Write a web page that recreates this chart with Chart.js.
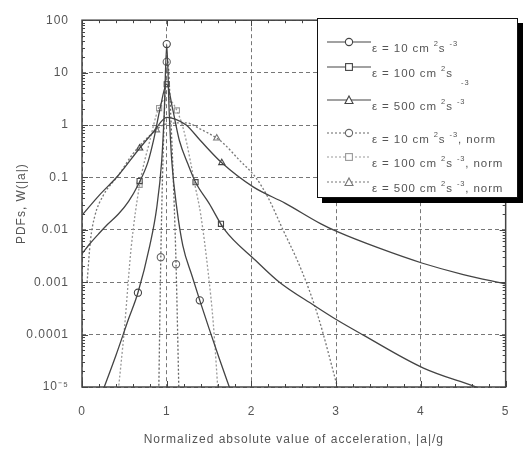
<!DOCTYPE html>
<html>
<head>
<meta charset="utf-8">
<script src="https://cdn.jsdelivr.net/npm/chart.js@4.4.1/dist/chart.umd.min.js"></script>
<style>
  html, body { margin: 0; padding: 0; background: #fff; }
  #wrap { position: relative; width: 526px; height: 449px; }
  #legend {
    position: absolute; left: 317px; top: 18px; width: 199px; height: 178px;
    border: 1.5px solid #111; background: #fff; box-shadow: 5px 5px 0 #000;
    font-family: "Liberation Sans", Arial, sans-serif; font-size: 11.5px; color: #555;
    letter-spacing: 0.9px;
  }
  .row { position: absolute; left: 0; width: 199px; height: 26px; }
  .row svg { position: absolute; left: 9px; top: 0; }
  .row .t { position: absolute; left: 54px; top: 6px; white-space: nowrap; line-height: 13px; }
  .row sup { font-size: 7.5px; vertical-align: 6px; line-height: 0; }
  .row .drop { position: absolute; left: 143px; top: 17px; font-size: 7.5px; }
</style>
</head>
<body>
<div id="wrap">
  <canvas id="c" width="526" height="449"></canvas>
  <div id="legend"></div>
</div>
<script>
// ── axes ────────────────────────────────────────────────────────────────
const X_TICKS = [0, 1, 2, 3, 4, 5];
const Y_TICKS = [1e-5, 1e-4, 1e-3, 0.01, 0.1, 1, 10, 100];
const Y_LABELS = ["10⁻⁵", "0.0001", "0.001", "0.01", "0.1", "1", "10", "100"];

// ── curves ──────────────────────────────────────────────────────────────
// eps = 10, solid, circles
const eps10X = [0.24, 0.4, 0.55, 0.66, 0.8, 0.88, 0.94, 0.97, 1.0, 1.03, 1.06, 1.12, 1.19, 1.3, 1.39, 1.5, 1.62, 1.76];
const eps10Y = [8e-6, 4e-5, 2e-4, 6.3e-4, 5e-3, 0.025, 0.2, 1.6, 35, 1.6, 0.2, 0.025, 5e-3, 1.3e-3, 4.5e-4, 1.3e-4, 3.5e-5, 8e-6];
const eps10MarkX = [0.66, 1.0, 1.39];
const eps10MarkY = [6.3e-4, 35, 4.5e-4];

// eps = 100, solid, squares
const eps100X = [0, 0.1, 0.2, 0.3, 0.43, 0.55, 0.66, 0.78, 0.85, 0.92, 1.0, 1.07, 1.15, 1.25, 1.34, 1.5, 1.68, 2.05, 2.33, 2.74, 3.01, 3.31, 4.03, 4.6, 5.0];
const eps100Y = [3.5e-3, 5.6e-3, 8.5e-3, 0.0126, 0.02, 0.035, 0.071, 0.2, 0.56, 2.0, 6.0, 2.0, 0.5, 0.18, 0.081, 0.032, 0.0102, 2.6e-3, 1.0e-3, 3.6e-4, 1.9e-4, 1.0e-4, 2.3e-5, 1.07e-5, 6.3e-6];
const eps100MarkX = [0.68, 1.0, 1.34, 1.64];
const eps100MarkY = [0.085, 6.0, 0.081, 0.013];

// eps = 500, solid, triangles
const eps500X = [0, 0.2, 0.43, 0.68, 0.85, 1.0, 1.1, 1.23, 1.4, 1.65, 2.02, 2.4, 2.82, 3.02, 3.5, 4.02, 4.5, 5.0];
const eps500Y = [0.019, 0.045, 0.11, 0.36, 0.76, 1.4, 1.3, 1.0, 0.5, 0.19, 0.066, 0.032, 0.013, 9.1e-3, 4.5e-3, 2.3e-3, 1.4e-3, 9.3e-4];
const eps500MarkX = [0.68, 1.65];
const eps500MarkY = [0.36, 0.19];

// eps = 10, norm, dotted circles
const eps10nX = [0.905, 0.93, 0.95, 0.97, 0.985, 1.0, 1.015, 1.03, 1.06, 1.09, 1.11, 1.145];
const eps10nY = [6.3e-6, 3e-3, 0.1, 1.26, 6.3, 16, 16, 6.3, 0.5, 0.025, 2.2e-3, 6.3e-6];
const eps10nMarkX = [0.93, 1.0, 1.11];
const eps10nMarkY = [3e-3, 16, 2.2e-3];

// eps = 100, norm, dotted squares
const eps100nX = [0.42, 0.5, 0.58, 0.68, 0.8, 0.9, 1.0, 1.1, 1.2, 1.34, 1.4, 1.49, 1.55, 1.61];
const eps100nY = [6.3e-6, 1.26e-4, 4.5e-3, 0.072, 0.5, 2.0, 3.2, 2.2, 0.8, 0.063, 0.02, 1.5e-3, 1.6e-4, 6.3e-6];
const eps100nMarkX = [0.68, 0.91, 1.12];
const eps100nMarkY = [0.072, 2.1, 1.9];

// eps = 500, norm, dotted triangles
const eps500nX = [0.06, 0.1, 0.15, 0.25, 0.43, 0.6, 0.8, 1.0, 1.23, 1.4, 1.59, 1.68, 1.85, 2.05, 2.2, 2.36, 2.59, 2.78, 3.04];
const eps500nY = [1e-3, 6.3e-3, 0.018, 0.045, 0.11, 0.28, 0.63, 1.05, 1.1, 0.83, 0.56, 0.43, 0.22, 0.1, 0.04, 0.011, 1.7e-3, 2.4e-4, 7e-6];
const eps500nMarkX = [0.88, 1.59];
const eps500nMarkY = [0.8, 0.56];

const SOLID = "#444";
const DOT = [2, 2];

function pts(xs, ys) { return xs.map((x, i) => ({ x, y: ys[i] })); }

function curve(xs, ys, color, dash) {
  return {
    data: pts(xs, ys), borderColor: color, borderWidth: 1.3, borderDash: dash || [],
    pointRadius: 0, cubicInterpolationMode: "monotone", fill: false
  };
}

function marks(xs, ys, style, color) {
  return {
    data: pts(xs, ys), showLine: false, pointStyle: style, pointRadius: 3.6,
    pointBorderWidth: 1.1, pointBorderColor: color, pointBackgroundColor: "#fff"
  };
}

// the original lettering is spaced out a little
const spacing = {
  id: "spacing",
  beforeInit(chart) { chart.ctx.letterSpacing = "1px"; },
  beforeDraw(chart) { chart.ctx.letterSpacing = "1px"; }
};

// frame + inward minor ticks on all four sides
const frameTicks = {
  id: "frameTicks",
  afterDatasetsDraw(chart) {
    const { ctx, chartArea: a, scales: { x, y } } = chart;
    const seg = (x1, y1, x2, y2) => { ctx.beginPath(); ctx.moveTo(x1, y1); ctx.lineTo(x2, y2); ctx.stroke(); };
    ctx.save();
    ctx.strokeStyle = "#444";
    ctx.lineWidth = 1;
    for (let e = -5; e < 2; e++) {
      for (let m = 1; m < 10; m++) {
        const py = Math.round(y.getPixelForValue(m * Math.pow(10, e))) + 0.5;
        const len = m === 1 ? 6 : 3;
        seg(a.left, py, a.left + len, py);
        seg(a.right, py, a.right - len, py);
      }
    }
    for (let i = 0; i <= 25; i++) {
      const px = Math.round(x.getPixelForValue(i * 0.2)) + 0.5;
      const len = i % 5 === 0 ? 6 : 3;
      seg(px, a.bottom, px, a.bottom - len);
      seg(px, a.top, px, a.top + len);
    }
    ctx.lineWidth = 1.5;
    ctx.strokeRect(a.left, a.top, a.right - a.left, a.bottom - a.top);
    ctx.restore();
  }
};

const FONT = { family: "'Liberation Sans', Arial, sans-serif", size: 12 };

new Chart(document.getElementById("c"), {
  type: "line",
  data: {
    datasets: [
      curve(eps10X, eps10Y, SOLID),
      curve(eps100X, eps100Y, SOLID),
      curve(eps500X, eps500Y, SOLID),
      curve(eps10nX, eps10nY, "#666", DOT),
      curve(eps100nX, eps100nY, "#999", DOT),
      curve(eps500nX, eps500nY, "#777", DOT),
      marks(eps10MarkX, eps10MarkY, "circle", SOLID),
      marks(eps100MarkX, eps100MarkY, "rect", SOLID),
      marks(eps500MarkX, eps500MarkY, "triangle", SOLID),
      marks(eps10nMarkX, eps10nMarkY, "circle", "#666"),
      marks(eps100nMarkX, eps100nMarkY, "rect", "#999"),
      marks(eps500nMarkX, eps500nMarkY, "triangle", "#777")
    ]
  },
  options: {
    responsive: false, animation: false, devicePixelRatio: 1,
    layout: { padding: { top: 11, right: 3, left: 0, bottom: 0 } },
    plugins: { legend: { display: false }, tooltip: { enabled: false } },
    scales: {
      x: {
        type: "linear", min: 0, max: 5,
        afterBuildTicks: s => { s.ticks = X_TICKS.map(v => ({ value: v })); },
        afterFit: s => { s.height = 62; },
        grid: { color: "#777", drawTicks: false },
        border: { display: false, dash: [4, 3] },
        ticks: { padding: 17, color: "#555", font: FONT, maxRotation: 0 },
        title: { display: true, text: "Normalized absolute value of acceleration, |a|/g", color: "#555", font: FONT, padding: { top: 0, bottom: 2 } }
      },
      y: {
        type: "logarithmic", min: 1e-5, max: 100,
        afterBuildTicks: s => { s.ticks = Y_TICKS.map(v => ({ value: v })); },
        afterFit: s => { s.width = 82; },
        grid: { color: "#777", drawTicks: false },
        border: { display: false, dash: [4, 3] },
        ticks: { padding: 13, color: "#555", font: FONT, callback: (v, i) => Y_LABELS[i] },
        title: { display: true, text: "PDFs, W(|a|)", color: "#555", font: FONT, padding: { top: 14, bottom: 0 } }
      }
    }
  },
  plugins: [spacing, frameTicks]
});

// ── legend (html so the superscripts stay real text) ───────────────────
// lineY is the page y of each sample line
const LEGEND_ROWS = [
  { lineY: 42, dash: false, mark: "circle", color: SOLID, html: "ε = 10 cm <sup>2</sup>s <sup>-3</sup>" },
  { lineY: 67, dash: false, mark: "rect", color: SOLID, html: "ε = 100 cm <sup>2</sup>s", drop: "-3" },
  { lineY: 100, dash: false, mark: "triangle", color: SOLID, html: "ε = 500 cm <sup>2</sup>s <sup>-3</sup>" },
  { lineY: 133, dash: true, mark: "circle", color: "#666", html: "ε = 10 cm <sup>2</sup>s <sup>-3</sup>, norm" },
  { lineY: 157, dash: true, mark: "rect", color: "#999", html: "ε = 100 cm <sup>2</sup>s <sup>-3</sup>, norm" },
  { lineY: 182, dash: true, mark: "triangle", color: "#777", html: "ε = 500 cm <sup>2</sup>s <sup>-3</sup>, norm" }
];

function markerSvg(kind, color) {
  const st = `fill="#fff" stroke="${color}" stroke-width="1.1"`;
  if (kind === "circle") return `<circle cx="22" cy="6" r="3.6" ${st}/>`;
  if (kind === "rect") return `<rect x="18.6" y="2.6" width="6.8" height="6.8" ${st}/>`;
  return `<polygon points="22,2 26,9.5 18,9.5" ${st}/>`;
}

document.getElementById("legend").innerHTML = LEGEND_ROWS.map(r => `
  <div class="row" style="top:${r.lineY - 19.5 - 6}px">
    <svg width="44" height="12"><line x1="0" y1="6" x2="44" y2="6" stroke="${r.color}" stroke-width="1.2"${r.dash ? ' stroke-dasharray="2 2"' : ""}/>${markerSvg(r.mark, r.color)}</svg>
    <span class="t">${r.html}</span>${r.drop ? `<span class="drop">${r.drop}</span>` : ""}
  </div>`).join("");
</script>
</body>
</html>
